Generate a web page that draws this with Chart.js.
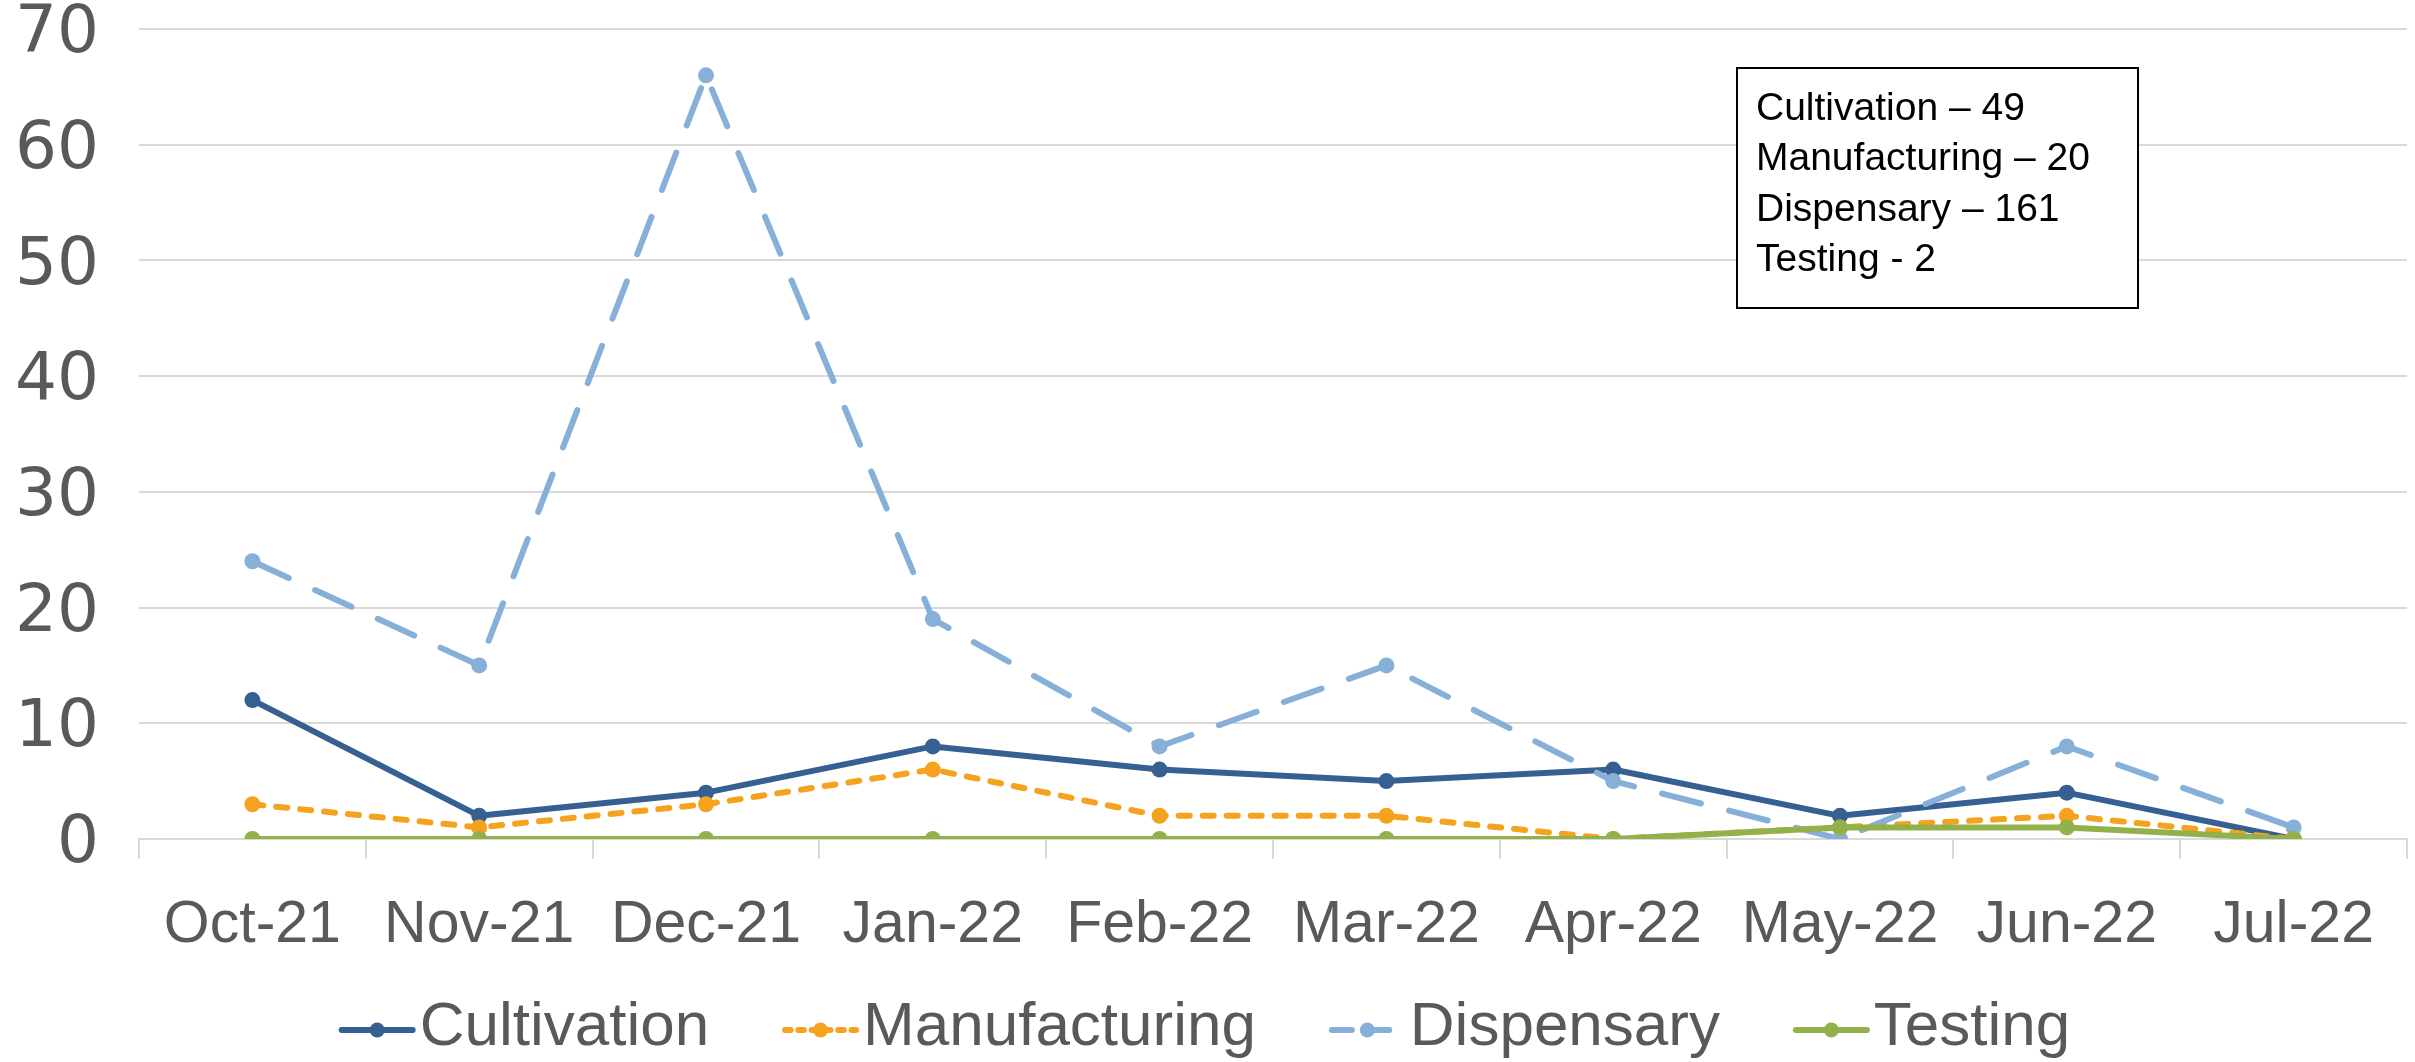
<!DOCTYPE html>
<html>
<head>
<meta charset="utf-8">
<script src="https://cdn.jsdelivr.net/npm/chart.js@4.4.1/dist/chart.umd.min.js"></script>
<style>
  html, body { margin: 0; padding: 0; background: #fff; }
  canvas { display: block; }
</style>
</head>
<body>
<canvas id="chart" width="2415" height="1062"></canvas>
<script>
// data
const months = ["Oct-21", "Nov-21", "Dec-21", "Jan-22", "Feb-22", "Mar-22", "Apr-22", "May-22", "Jun-22", "Jul-22"];
const cultivation   = [12, 2, 4, 8, 6, 5, 6, 2, 4, 0];
const manufacturing = [3, 1, 3, 6, 2, 2, 0, 1, 2, 0];
const dispensary    = [24, 15, 66, 19, 8, 15, 5, 0, 8, 1];
const testing       = [0, 0, 0, 0, 0, 0, 0, 1, 1, 0];
const yTicks = [0, 10, 20, 30, 40, 50, 60, 70];
const noteLines = ["Cultivation \u2013 49", "Manufacturing \u2013 20", "Dispensary \u2013 161", "Testing - 2"];

const FONT = "'Liberation Sans', Arial, sans-serif";
const TEXT_COLOR = "#595959";
const GRID_COLOR = "#d9d9d9";
const SAMPLE_W = 77;   // legend line sample length
const Y_AXIS_W = 139;  // room for the y labels

function series(label, data, color, dash, order) {
  return {
    label, data, order,
    borderColor: color,
    backgroundColor: color,
    borderWidth: 6,
    borderDash: dash,
    borderCapStyle: "round",
    borderJoinStyle: "round",
    pointRadius: 8,
    pointBorderWidth: 0,
    pointBackgroundColor: color,
    tension: 0,
    fill: false
  };
}

// legend samples drawn by hand: line (with dash) + dot
const legendSamples = {
  id: "legendSamples",
  afterDraw(chart) {
    const legend = chart.legend;
    if (!legend || !legend.legendHitBoxes) return;
    const ctx = chart.ctx;
    legend.legendItems.forEach((item, i) => {
      const box = legend.legendHitBoxes[i];
      const ds = chart.data.datasets[item.datasetIndex];
      const cy = box.top + box.height / 2 + 2;
      const x0 = box.left;
      ctx.save();
      ctx.strokeStyle = ds.borderColor;
      ctx.lineWidth = ds.borderWidth;
      ctx.lineCap = "round";
      ctx.setLineDash(ds.borderDash.length ? [ds.borderDash[0] * 0.5, ds.borderDash[1] * 0.6] : []);
      ctx.beginPath();
      ctx.moveTo(x0 + 3, cy);
      ctx.lineTo(x0 + SAMPLE_W - 3, cy);
      ctx.stroke();
      ctx.fillStyle = ds.borderColor;
      ctx.beginPath();
      ctx.arc(x0 + SAMPLE_W / 2, cy, 7.5, 0, Math.PI * 2);
      ctx.fill();
      ctx.restore();
    });
  }
};

// the totals box in the top right
const noteBox = {
  id: "noteBox",
  afterDraw(chart) {
    const ctx = chart.ctx;
    ctx.save();
    ctx.fillStyle = "#fff";
    ctx.fillRect(1737, 68, 401, 240);
    ctx.strokeStyle = "#000";
    ctx.lineWidth = 2;
    ctx.strokeRect(1737, 68, 401, 240);
    ctx.fillStyle = "#000";
    ctx.font = "39px " + FONT;
    ctx.textBaseline = "middle";
    noteLines.forEach((t, i) => ctx.fillText(t, 1756, 109 + i * 50.5));
    ctx.restore();
  }
};

new Chart(document.getElementById("chart"), {
  type: "line",
  data: {
    labels: months,
    datasets: [
      series("Cultivation", cultivation, "#376092", [], 4),
      series("Manufacturing", manufacturing, "#f5a21f", [11, 13], 3),
      series("Dispensary", dispensary, "#86b0d8", [40, 29], 2),
      series("Testing", testing, "#93b14b", [], 1)
    ]
  },
  options: {
    responsive: false,
    animation: false,
    layout: { padding: { top: 29, right: 6, left: 0, bottom: -7 } },
    plugins: {
      tooltip: { enabled: false },
      legend: {
        position: "bottom",
        labels: {
          boxWidth: 50,
          boxHeight: 10,
          padding: 4,
          color: TEXT_COLOR,
          font: { family: FONT, size: 62 },
          sort: (a, b) => a.datasetIndex - b.datasetIndex,
          generateLabels(chart) {
            const items = Chart.defaults.plugins.legend.labels.generateLabels(chart);
            items.forEach(it => {
              it.fillStyle = "rgba(0,0,0,0)";
              it.strokeStyle = "rgba(0,0,0,0)";
              it.lineWidth = 0;
              // trailing spaces give the gap between legend entries
              if (it.datasetIndex < 3) it.text = it.text + "\u00a0\u00a0\u00a0\u00a0";
            });
            return items;
          }
        }
      }
    },
    scales: {
      x: {
        offset: true,
        grid: {
          offset: true,
          drawOnChartArea: false,
          drawTicks: true,
          tickLength: 20,
          color: GRID_COLOR,
          lineWidth: 2
        },
        border: { display: true, color: GRID_COLOR, width: 2 },
        ticks: { color: TEXT_COLOR, font: { family: FONT, size: 59, lineHeight: 1.56 }, padding: 21, maxRotation: 0 }
      },
      y: {
        min: yTicks[0],
        max: yTicks[yTicks.length - 1],
        afterBuildTicks(axis) { axis.ticks = yTicks.map(v => ({ value: v })); },
        afterFit(axis) {
          axis.width = Y_AXIS_W;
          axis.paddingTop = 0;
          axis.paddingBottom = 0;
        },
        grid: { color: GRID_COLOR, lineWidth: 2, drawTicks: false },
        border: { display: false },
        ticks: { color: TEXT_COLOR, font: { family: "'DejaVu Sans', sans-serif", size: 66 }, padding: 40, labelOffset: 6 }
      }
    }
  },
  plugins: [legendSamples, noteBox]
});
</script>
</body>
</html>
